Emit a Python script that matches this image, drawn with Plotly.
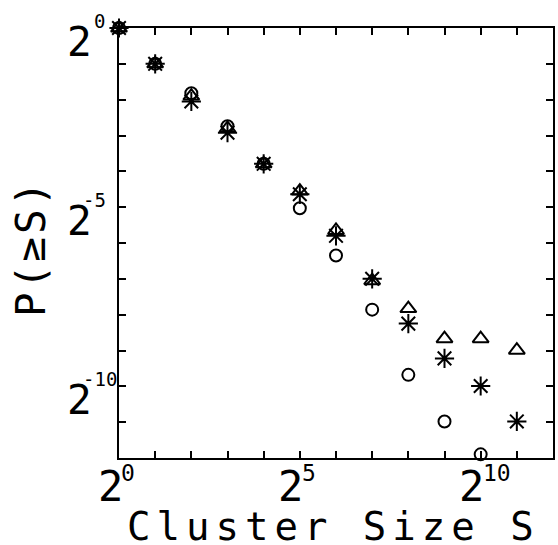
import math
import plotly.graph_objects as go

# ---- data ----
cluster_size = [1, 2, 4, 8, 16, 32, 64, 128, 256, 512, 1024, 2048]

p_circle = [1.0, 0.5, 0.2832, 0.1496, 0.0723, 0.0306, 0.01226, 0.004304,
            0.001219, 0.000495, 0.000262]
p_triangle = [1.0, 0.5, 0.268, 0.1436, 0.0723, 0.0427, 0.01992, 0.007546,
              0.004394, 0.002455, 0.002455, 0.001967]
p_asterisk = [1.0, 0.5, 0.2415, 0.1321, 0.0723, 0.0401, 0.01795, 0.0078125,
              0.003285, 0.001677, 0.000983, 0.000495]

x_tick_exps = [0, 5, 10]
y_tick_exps = [0, -5, -10]
x_title = "Cluster Size S"
y_title = "P(≥S)"

FONT = "DejaVu Sans Mono"
BLACK = "black"

fig = go.Figure()

fig.add_trace(go.Scatter(
    x=cluster_size[:len(p_circle)], y=p_circle, mode="markers",
    marker=dict(symbol="circle-open", size=12, color=BLACK,
                line=dict(width=2, color=BLACK)),
    cliponaxis=False, showlegend=False, hoverinfo="skip"))
fig.add_trace(go.Scatter(
    x=cluster_size[:len(p_triangle)], y=p_triangle, mode="markers",
    marker=dict(symbol="triangle-up-open", size=14, color=BLACK,
                line=dict(width=2, color=BLACK)),
    cliponaxis=False, showlegend=False, hoverinfo="skip"))
fig.add_trace(go.Scatter(
    x=cluster_size[:len(p_asterisk)], y=p_asterisk, mode="markers",
    marker=dict(symbol="asterisk-open", size=16, color=BLACK,
                line=dict(width=2, color=BLACK)),
    cliponaxis=False, showlegend=False, hoverinfo="skip"))

L2 = math.log10(2)
axis_common = dict(
    type="log", showgrid=False, zeroline=False,
    showline=True, linecolor=BLACK, linewidth=2, mirror="ticks",
    ticks="inside", ticklen=7, tickwidth=2, tickcolor=BLACK,
    showticklabels=False,
)
fig.update_xaxes(range=[0, 12 * L2], tickvals=[2 ** k for k in range(1, 12)],
                 **axis_common)
fig.update_yaxes(range=[-12 * L2, 0], tickvals=[2 ** -k for k in range(1, 12)],
                 **axis_common)

PLOT_L, PLOT_W = 119, 436

# x tick labels: big "2" with exponent
for e in x_tick_exps:
    fig.add_annotation(x=e * L2, xref="x", y=0, yref="paper", text="2",
                       showarrow=False, xanchor="center", yanchor="middle",
                       xshift=-9, yshift=-28,
                       font=dict(family=FONT, size=42, color=BLACK))
    fig.add_annotation(x=e * L2, xref="x", y=0, yref="paper", text=str(e),
                       showarrow=False, xanchor="left", yanchor="middle",
                       xshift=0, yshift=-15,
                       font=dict(family=FONT, size=23, color=BLACK))
# y tick labels
for e in y_tick_exps:
    fig.add_annotation(x=0, xref="paper", y=e * L2, yref="y", text="2",
                       showarrow=False, xanchor="center", yanchor="middle",
                       xshift=-40, yshift=-14,
                       font=dict(family=FONT, size=41, color=BLACK))
    shift = -27 - (11 if e < 0 else 0)
    fig.add_annotation(x=0, xref="paper", y=e * L2, yref="y", text=str(e),
                       showarrow=False, xanchor="left", yanchor="middle",
                       xshift=shift, yshift=7,
                       font=dict(family=FONT, size=19, color=BLACK))
# axis titles
fig.add_annotation(x=(334 - PLOT_L) / PLOT_W, xref="paper", y=0, yref="paper",
                   text=f'<span style="letter-spacing:6px">{x_title}</span>',
                   showarrow=False, xanchor="center", yanchor="middle",
                   yshift=-68, font=dict(family=FONT, size=39, color=BLACK))
fig.add_annotation(x=0, xref="paper", y=0.5, yref="paper",
                   text=f'<span style="letter-spacing:3px">{y_title}</span>',
                   showarrow=False, xanchor="center", yanchor="middle",
                   textangle=-90, xshift=-88, yshift=-5,
                   font=dict(family=FONT, size=41, color=BLACK))

fig.update_layout(
    width=558, height=545,
    margin=dict(l=PLOT_L, r=3, t=28, b=87),
    paper_bgcolor="white", plot_bgcolor="white",
    showlegend=False,
)

fig.write_html(
    "out.html",
    config={"displayModeBar": False, "staticPlot": True},
    post_script="document.body.style.margin='0';"
                "document.body.style.overflow='hidden';",
)
